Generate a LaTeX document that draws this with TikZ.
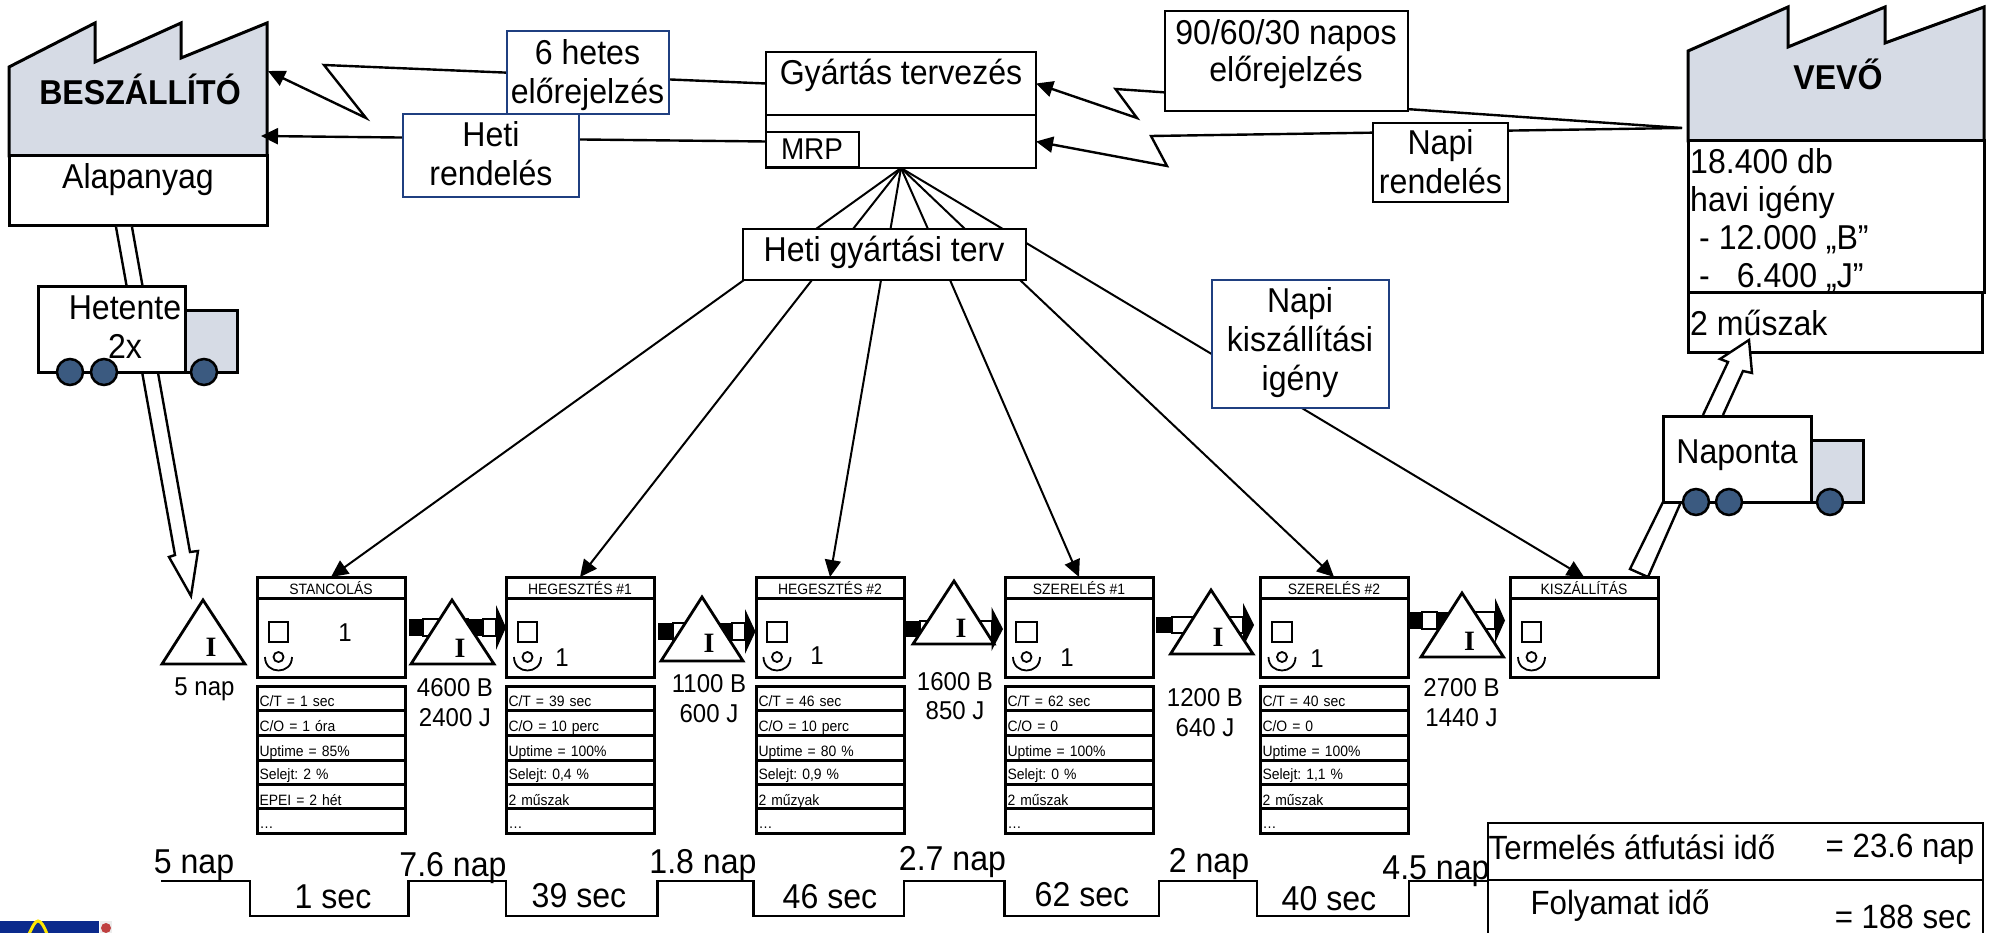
\documentclass[tikz,border=0pt]{standalone}
\usepackage{fontspec}
\setmainfont{Liberation Sans}[FakeStretch=0.93]
\newfontfamily\serbold{Liberation Serif}[BoldFont={Liberation Serif Bold}]
\usetikzlibrary{arrows.meta}
\definecolor{factgray}{HTML}{D6DBE5}
\definecolor{boxblue}{HTML}{1F3F80}
\definecolor{wheelblue}{HTML}{3B5A80}
\definecolor{logoblue}{HTML}{0B2A8C}
\newcommand{\fsz}[2]{\fontsize{#1}{#2}\selectfont}
\newcommand{\drop}[2]{\raisebox{-#1pt}[0pt][0pt]{#2}}
\tikzset{
  bx/.style={draw=black,fill=white,line width=2pt,inner sep=0pt,outer sep=0pt,anchor=north west},
  bxblue/.style={bx,draw=boxblue},
  pb/.style={bx,line width=3pt},
  tl/.style={font=\fsz{34.5}{39},inner sep=0pt,align=center},
  tm/.style={font=\fsz{25.8}{29.5},inner sep=0pt,align=center},
  rowbox/.style={pb,font=\fsz{15}{16},align=left,text width=143pt,inner xsep=2.5pt,minimum width=148pt},
  wire/.style={draw=black,line width=2pt,line join=miter},
  tipped/.style={wire,line width=2.4pt,-{Triangle[length=17pt,width=16pt]}},
  hollow/.style={draw=black,fill=white,line width=2.4pt,line join=miter},
  invtri/.style={draw=black,fill=white,line width=2.8pt,line join=miter},
  wheel/.style={draw=black,fill=wheelblue,line width=2.5pt},
  icon/.style={draw=black,line width=1.8pt},
  tline/.style={draw=black,line width=2.4pt}
}
% name, style, x1, y1, x2, y2
\newcommand{\cornerbox}[6]{%
  \pgfmathsetmacro\bw{#5-#3}\pgfmathsetmacro\bh{#6-#4}%
  \node[#2,minimum width=\bw pt,minimum height=\bh pt] (#1) at (#3,#4) {};}
% name, xl, title
\newcommand{\procbox}[3]{%
  \cornerbox{#1b}{pb}{#2}{598}{#2+148}{677}%
  \node[pb,minimum width=148pt,minimum height=21pt,font=\fsz{15}{16}] (#1h) at (#2,577) {\drop{6.5}{#3}};}
% rect left, rect right
\newcommand{\opicon}[2]{%
  \draw[icon] (#1,622) rectangle (#2,642);
  \pgfmathsetmacro\oc{(#1+#2)/2}\pgfmathsetmacro\ol{\oc-13.5}\pgfmathsetmacro\orr{\oc+13.5}%
  \draw[icon] (\oc,657) circle[radius=5pt];
  \draw[icon] (\ol,657) .. controls (\ol,675) and (\orr,675) .. (\orr,657);}
% xl, name, six texts
\newcommand{\datarows}[8]{%
  \node[rowbox,minimum height=24pt] (#2r1) at (#1,686) {\drop{8}{#3}};
  \node[rowbox,minimum height=25pt] (#2r2) at (#1,710) {\drop{9}{#4}};
  \node[rowbox,minimum height=25pt] (#2r3) at (#1,735) {\drop{9}{#5}};
  \node[rowbox,minimum height=24pt] (#2r4) at (#1,760) {\drop{7}{#6}};
  \node[rowbox,minimum height=24pt] (#2r5) at (#1,784) {\drop{9}{#7}};
  \node[rowbox,minimum height=25pt] (#2r6) at (#1,808) {\drop{8}{#8}};}
% name, apex x, apex y, left, right, base y, I x, I y
\newcommand{\invent}[8]{%
  \pgfmathsetmacro\iy{#3+1}\pgfmathsetmacro\il{#4+2}\pgfmathsetmacro\ir{#5-2}%
  \draw[invtri] (#2,\iy) -- (\il,#6) -- (\ir,#6) -- cycle;
  \node[inner sep=0pt,font=\serbold\bfseries\fsz{28}{28}] (#1) at (#7,#8) {I};}
% x0,x1,x2,x3,xh,xt,ytop,ybot
\newcommand{\pusharrow}[8]{%
  \fill[black] (#1,#7) rectangle (#2,#8);
  \draw[black,line width=2pt,fill=white] (#2,#7) rectangle (#3,#8);
  \fill[black] (#3,#7) rectangle (#4,#8);
  \draw[black,line width=2pt,fill=white] (#4,#7) rectangle (#5,#8);
  \pgfmathsetmacro\pm{(#7+#8)/2}\pgfmathsetmacro\pa{#7-14}\pgfmathsetmacro\pb{#8+14}%
  \fill[black] (#5,\pa) -- (#6,\pm) -- (#5,\pb) -- cycle;}
% x left of box, top, right of box, bottom, cab right, cab top, w1,w2,w3
\newcommand{\truck}[9]{%
  \draw[bx,line width=3pt,fill=factgray] (#3,#6) rectangle (#5,#4);
  \draw[bx,line width=3pt] (#1,#2) rectangle (#3,#4);
  \draw[wheel] (#7,#4) circle[radius=13pt];
  \draw[wheel] (#8,#4) circle[radius=13pt];
  \draw[wheel] (#9,#4) circle[radius=13pt];}
\begin{document}
\frenchspacing
\begin{tikzpicture}[x=1pt,y=-1pt]
\useasboundingbox (0,0) rectangle (1995,933);

% Factories
\draw[bx,line width=3pt,fill=factgray] (9,67) -- (95,23) -- (95,62) -- (181,23) -- (181,58) -- (267,23) -- (267,156) -- (9,156) -- cycle;
\cornerbox{besl}{pb}{9}{156}{267}{226}
\node[tl,font=\bfseries\fsz{34.5}{39}] (best) at (140,89.5) {BESZÁLLÍTÓ};
\node[tl] (alap) at (138,179.5) {Alapanyag};

\draw[bx,line width=3pt,fill=factgray] (1688,51) -- (1788,7) -- (1788,47) -- (1885,7) -- (1885,43) -- (1984,7) -- (1984,141) -- (1688,141) -- cycle;
\cornerbox{vevm}{pb}{1688}{141}{1984}{293}
\cornerbox{vevb}{pb}{1688}{293}{1982}{353}
\node[tl,font=\bfseries\fsz{34.5}{39}] (vevt) at (1838,74) {VEVŐ};
\node[tl,anchor=west] (v1) at (1690,161.5) {18.400 db};
\node[tl,anchor=west] (v2) at (1690,202) {havi igény};
\node[tl,anchor=west] (v3) at (1699,240) {- 12.000 „B”};
\node[tl,anchor=west] (v4) at (1699,278) {-\hspace{27pt}6.400 „J”};
\node[tl,anchor=west] (v6) at (1690,323) {2 műszak};

% Planning boxes
\cornerbox{gy}{bx}{766}{52}{1036}{115}
\cornerbox{gyl}{bx}{766}{115}{1036}{168}
\cornerbox{mrp}{bx}{766}{132}{859}{167}
\node[tl] (gytext) at (901,75.5) {Gyártás tervezés};
\node[tl,font=\fsz{30}{34}] (mrptext) at (812,149) {MRP};

% Process boxes
\procbox{p1}{257}{STANCOLÁS}
\procbox{p2}{506}{HEGESZTÉS \#1}
\procbox{p3}{756}{HEGESZTÉS \#2}
\procbox{p4}{1005}{SZERELÉS \#1}
\procbox{p5}{1260}{SZERELÉS \#2}
\procbox{p6}{1510}{KISZÁLLÍTÁS}

% Free ends and bends
\coordinate (bes1) at (268,71);
\coordinate (bes2) at (261,136);
\coordinate (vev) at (1682,128);
\coordinate (l1a) at (324,65);
\coordinate (l1b) at (366,118);
\coordinate (l2a) at (1115.5,89);
\coordinate (l2b) at (1137,118);
\coordinate (l3a) at (1151,136);
\coordinate (l3b) at (1167,166);

% Information connectors
\draw[tipped] (gy.west) -- (l1a) -- (l1b) -- (bes1);
\draw[tipped] (gyl.west) -- (bes2);
\draw[tipped] (vev) -- (l2a) -- (l2b) -- (gy.east);
\draw[tipped] (vev) -- (l3a) -- (l3b) -- (gyl.east);

% Fan from planning to processes
\coordinate (t1) at (816,229); \coordinate (b1) at (744,280);
\coordinate (t2) at (853,229); \coordinate (b2) at (812,280);
\coordinate (t3) at (890.5,229); \coordinate (b3) at (881,280);
\coordinate (t4) at (928,229); \coordinate (b4) at (950,280);
\coordinate (t5) at (965,229); \coordinate (b5) at (1020,280);
\draw[wire] (gyl.south) -- (t1);
\draw[wire] (gyl.south) -- (t2);
\draw[wire] (gyl.south) -- (t3);
\draw[wire] (gyl.south) -- (t4);
\draw[wire] (gyl.south) -- (t5);
\draw[tipped,line width=2pt] (b1) -- (p1h.north);
\draw[tipped,line width=2pt] (b2) -- (p2h.north);
\draw[tipped,line width=2pt] (b3) -- (p3h.north);
\draw[tipped,line width=2pt] (b4) -- (p4h.north);
\draw[tipped,line width=2pt] (b5) -- (p5h.north);
\draw[tipped,line width=2pt] (gyl.south) -- (p6h.north);

\cornerbox{hg}{bx}{743}{229}{1026}{280}
\node[tl] (hgtext) at (884,252.5) {Heti gyártási terv};

% Signal boxes
\cornerbox{h6}{bxblue}{507}{31}{669}{114}
\node[tl] (h6t) at (587.5,75) {6 hetes\\előrejelzés};
\cornerbox{hr}{bxblue}{403}{114}{579}{197}
\node[tl] (hrt) at (491,154) {Heti\\rendelés};
\cornerbox{f90}{bx}{1165}{11}{1408}{111}
\node[tl,font=\fsz{34.5}{37}] (f90t) at (1286,54) {90/60/30 napos\\előrejelzés};
\cornerbox{nr}{bx}{1373}{123}{1508}{202}
\node[tl] (nrt) at (1440.5,162) {Napi\\rendelés};
\cornerbox{nk}{bxblue}{1212}{280}{1389}{408}
\node[tl,font=\fsz{34.5}{39}] (nkt) at (1300,343) {Napi\\kiszállítási\\igény};

% Hollow shipment arrows
\draw[hollow] (116,227) -- (175,555) -- (169,557) -- (191,596) -- (198,551) -- (190,552) -- (132,227);
\draw[hollow] (1630,569) -- (1663,502) -- (1681,502) -- (1648,577) -- cycle;
\draw[hollow] (1703,415) -- (1728,362) -- (1720,359) -- (1749,340) -- (1752,373) -- (1743,371) -- (1723,415);

% Trucks
\truck{38}{287}{185}{372}{237.5}{311}{70}{104}{204}
\node[tl] (trk1) at (125,327) {Hetente\\2x};
\truck{1663}{416}{1811}{502}{1863}{440}{1696}{1729}{1830}
\node[tl] (trk2) at (1737,455.5) {Naponta};

% Process details
\opicon{269}{288}
\node[tm] (n1) at (345,633) {1};
\opicon{518}{537}
\node[tm] (n2) at (562,658) {1};
\opicon{767}{787}
\node[tm] (n3) at (817,656) {1};
\opicon{1016}{1037}
\node[tm] (n4) at (1067,658) {1};
\opicon{1272}{1292}
\node[tm] (n5) at (1317,659) {1};
\opicon{1522}{1541}

\datarows{257}{p1}{C/T = 1 sec}{C/O = 1 óra}{Uptime = 85\%}{Selejt: 2 \%}{EPEI = 2 hét}{…}
\datarows{506}{p2}{C/T = 39 sec}{C/O = 10 perc}{Uptime = 100\%}{Selejt: 0,4 \%}{2 műszak}{…}
\datarows{756}{p3}{C/T = 46 sec}{C/O = 10 perc}{Uptime = 80 \%}{Selejt: 0,9 \%}{2 műzyak}{…}
\datarows{1005}{p4}{C/T = 62 sec}{C/O = 0}{Uptime = 100\%}{Selejt: 0 \%}{2 műszak}{…}
\datarows{1260}{p5}{C/T = 40 sec}{C/O = 0}{Uptime = 100\%}{Selejt: 1,1 \%}{2 műszak}{…}

% Push arrows and inventory triangles
\pusharrow{409}{423}{468}{483}{496}{506}{619}{636}
\pusharrow{658}{672.6}{718}{732}{745}{755.5}{623}{640}
\pusharrow{904}{920}{965}{978}{991.5}{1003}{621}{637}
\pusharrow{1156}{1172}{1217}{1230}{1243}{1254}{617}{633}
\pusharrow{1409.5}{1421.6}{1437}{1452}{1495}{1505}{612}{629}

\invent{i0}{203}{599}{160}{247}{664}{211}{647}
\invent{i1}{452}{599}{409}{496}{664}{460}{648}
\invent{i2}{702}{596}{659}{745}{661}{709}{643}
\invent{i3}{954}{580}{911}{996}{644}{961}{628}
\invent{i4}{1211}{589}{1168.5}{1255}{654}{1218}{637}
\invent{i5}{1462}{592}{1419}{1505.5}{657}{1469.5}{641}

\node[tm] (q0) at (204.5,689.5) {5 nap};
\node[tm] (q1) at (455,702.5) {4600 B\\2400 J};
\node[tm] (q2) at (709,698.5) {1100 B\\600 J};
\node[tm] (q3) at (955,696) {1600 B\\850 J};
\node[tm] (q4) at (1205,712.5) {1200 B\\640 J};
\node[tm] (q5) at (1461.5,702.5) {2700 B\\1440 J};

% Timeline
\draw[tline,line join=miter] (161,881) -- (250,881) -- (250,916) -- (408.6,916) -- (408.6,881) -- (506,881) -- (506,916) -- (657.5,916) -- (657.5,881) -- (753.5,881) -- (753.5,916) -- (904,916) -- (904,881) -- (1004.5,881) -- (1004.5,916) -- (1159,916) -- (1159,881) -- (1257,881) -- (1257,916) -- (1409,916) -- (1409,881) -- (1488,881);
\node[tl] (d0) at (194,865.5) {5 nap};
\node[tl] (c1) at (333,897) {1 sec};
\node[tl] (d1) at (453,868) {7.6 nap};
\node[tl] (c2) at (579,896) {39 sec};
\node[tl] (d2) at (703,865.5) {1.8 nap};
\node[tl] (c3) at (830,897) {46 sec};
\node[tl] (d3) at (952.5,862.5) {2.7 nap};
\node[tl] (c4) at (1082,895) {62 sec};
\node[tl] (d4) at (1209,864.5) {2 nap};
\node[tl] (c5) at (1329,899) {40 sec};
\node[tl] (d5) at (1436,871) {4.5 nap};

% Summary table
\node[draw=black,line width=2pt,inner sep=0pt,outer sep=0pt,anchor=north west,minimum width=495pt,minimum height=57pt] (st1) at (1488,823) {};
\node[draw=black,line width=2pt,inner sep=0pt,outer sep=0pt,anchor=north west,minimum width=495pt,minimum height=70pt] (st2) at (1488,880) {};
\node[tl,font=\fsz{33.6}{38}] (s1) at (1632,847.5) {Termelés átfutási idő};
\node[tl,font=\fsz{33.6}{38}] (s2) at (1900,849) {= 23.6 nap};
\node[tl,font=\fsz{33.6}{38}] (s3) at (1620,905.5) {Folyamat idő};
\node[tl,font=\fsz{33.6}{38}] (s4) at (1903,917) {= 188 sec};

% Logo fragment
\fill[logoblue] (0,921) rectangle (99,933);
\draw[yellow!90!orange,line width=3pt] (29,934) .. controls (33,926) and (35,921) .. (38,921) .. controls (41,921) and (44,926) .. (47,934);
\fill[white!85!gray] (100,921) rectangle (112,933);
\fill[red!50!gray] (106,928) circle[radius=5pt];
\end{tikzpicture}
\end{document}
